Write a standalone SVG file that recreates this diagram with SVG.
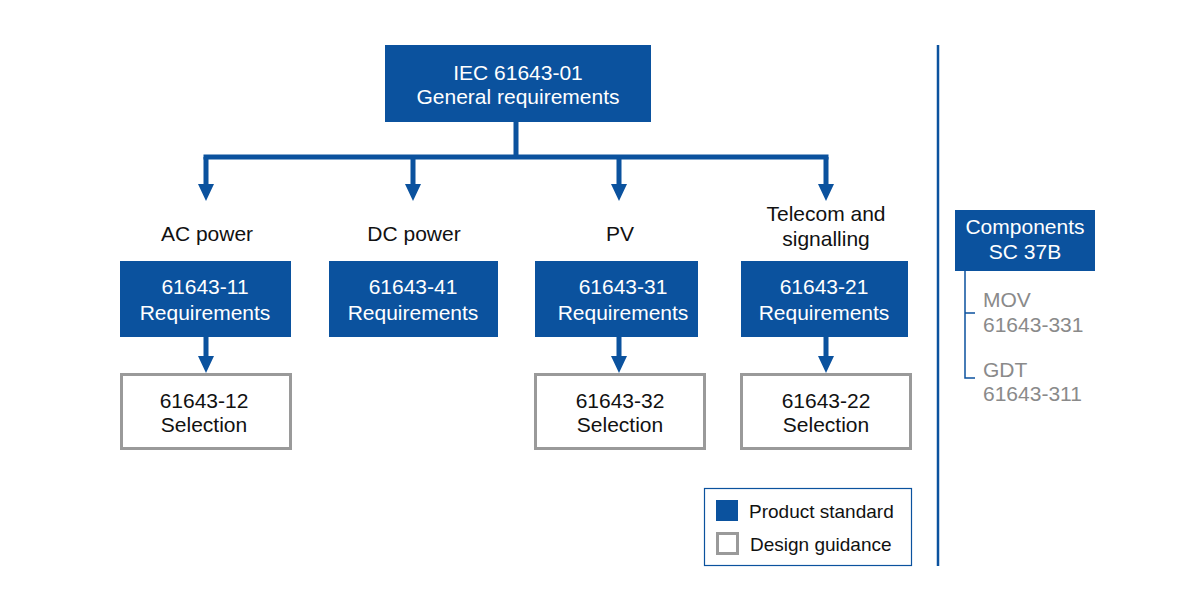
<svg xmlns="http://www.w3.org/2000/svg" width="1200" height="600" viewBox="0 0 1200 600">
<style>
text{font-family:"Liberation Sans",Arial,sans-serif;font-size:21px;text-anchor:middle}
.b{fill:#0b529e}
.w{fill:#fff}
.k{fill:#111}
.g{fill:#8a8a8a;text-anchor:start}
.sel{fill:#fff;stroke:#9a9a9a;stroke-width:3}
.ln{stroke:#0b529e;stroke-width:5;fill:none}
</style>
<defs><marker id="ar" viewBox="0 0 10 10" refX="5" refY="10" markerWidth="3.4" markerHeight="3.4" markerUnits="strokeWidth" orient="auto-start-reverse"><path d="M0,0 L10,0 L5,10 Z" transform="rotate(0)" fill="#0b529e"/></marker></defs>
<rect width="1200" height="600" fill="#fff"/>
<g id="connectors">
<path class="ln" d="M516,122 V157 M203.5,157 H828.5"/>
<path d="M206,157 V185 M413,157 V185 M619,157 V185 M826,157 V185 M206,337 V357 M619,337 V357 M826,337 V357" class="ln"/>
<path class="b" d="M198,184 h16 l-8,17 z M405,184 h16 l-8,17 z M611,184 h16 l-8,17 z M818,184 h16 l-8,17 z M198,356 h16 l-8,17 z M611,356 h16 l-8,17 z M818,356 h16 l-8,17 z"/>
<path d="M938,45 V566" stroke="#0b529e" stroke-width="2.5"/>
<path d="M965,270 V378 H975 M965,313 H975" stroke="#0b529e" stroke-width="1.5" fill="none"/>
</g>
<g id="n-top"><rect class="b" x="385" y="45" width="266" height="77"/><text class="w" x="518" y="80">IEC 61643-01</text><text class="w" x="518" y="104">General requirements</text></g>
<g id="l-ac"><text class="k" x="207" y="241">AC power</text></g>
<g id="l-dc"><text class="k" x="414" y="241">DC power</text></g>
<g id="l-pv"><text class="k" x="620" y="241">PV</text></g>
<g id="l-tel"><text class="k" x="826" y="221">Telecom and</text><text class="k" x="826" y="246">signalling</text></g>
<g id="n-11"><rect class="b" x="120" y="261" width="171" height="76"/><text class="w" x="205" y="294">61643-11</text><text class="w" x="205" y="320">Requirements</text></g>
<g id="n-41"><rect class="b" x="329" y="261" width="169" height="76"/><text class="w" x="413" y="294">61643-41</text><text class="w" x="413" y="320">Requirements</text></g>
<g id="n-31"><rect class="b" x="535" y="261" width="163" height="76"/><text class="w" x="623" y="294">61643-31</text><text class="w" x="623" y="320">Requirements</text></g>
<g id="n-21"><rect class="b" x="741" y="261" width="167" height="76"/><text class="w" x="824" y="294">61643-21</text><text class="w" x="824" y="320">Requirements</text></g>
<g id="n-12"><rect class="sel" x="121.5" y="374.5" width="169" height="74"/><text class="k" x="204" y="408">61643-12</text><text class="k" x="204" y="432">Selection</text></g>
<g id="n-32"><rect class="sel" x="535.5" y="374.5" width="169" height="74"/><text class="k" x="620" y="408">61643-32</text><text class="k" x="620" y="432">Selection</text></g>
<g id="n-22"><rect class="sel" x="741.5" y="374.5" width="169" height="74"/><text class="k" x="826" y="408">61643-22</text><text class="k" x="826" y="432">Selection</text></g>
<g id="n-comp"><rect class="b" x="955" y="210" width="140" height="61"/><text class="w" x="1025" y="234">Components</text><text class="w" x="1025" y="259">SC 37B</text></g>
<g id="n-mov"><text class="g" x="983" y="307">MOV</text><text class="g" x="983" y="332">61643-331</text></g>
<g id="n-gdt"><text class="g" x="983" y="377">GDT</text><text class="g" x="983" y="401">61643-311</text></g>
<g id="legend"><rect x="704.5" y="488.5" width="207" height="77" fill="#fff" stroke="#0b529e" stroke-width="1.2"/>
<rect class="b" x="716" y="500" width="22" height="21"/><rect x="717.5" y="533.5" width="20" height="20" fill="#fff" stroke="#9a9a9a" stroke-width="3"/>
<text class="k" x="749" y="518" style="text-anchor:start;font-size:19px">Product standard</text>
<text class="k" x="750" y="551" style="text-anchor:start;font-size:19px">Design guidance</text></g>
</svg>
